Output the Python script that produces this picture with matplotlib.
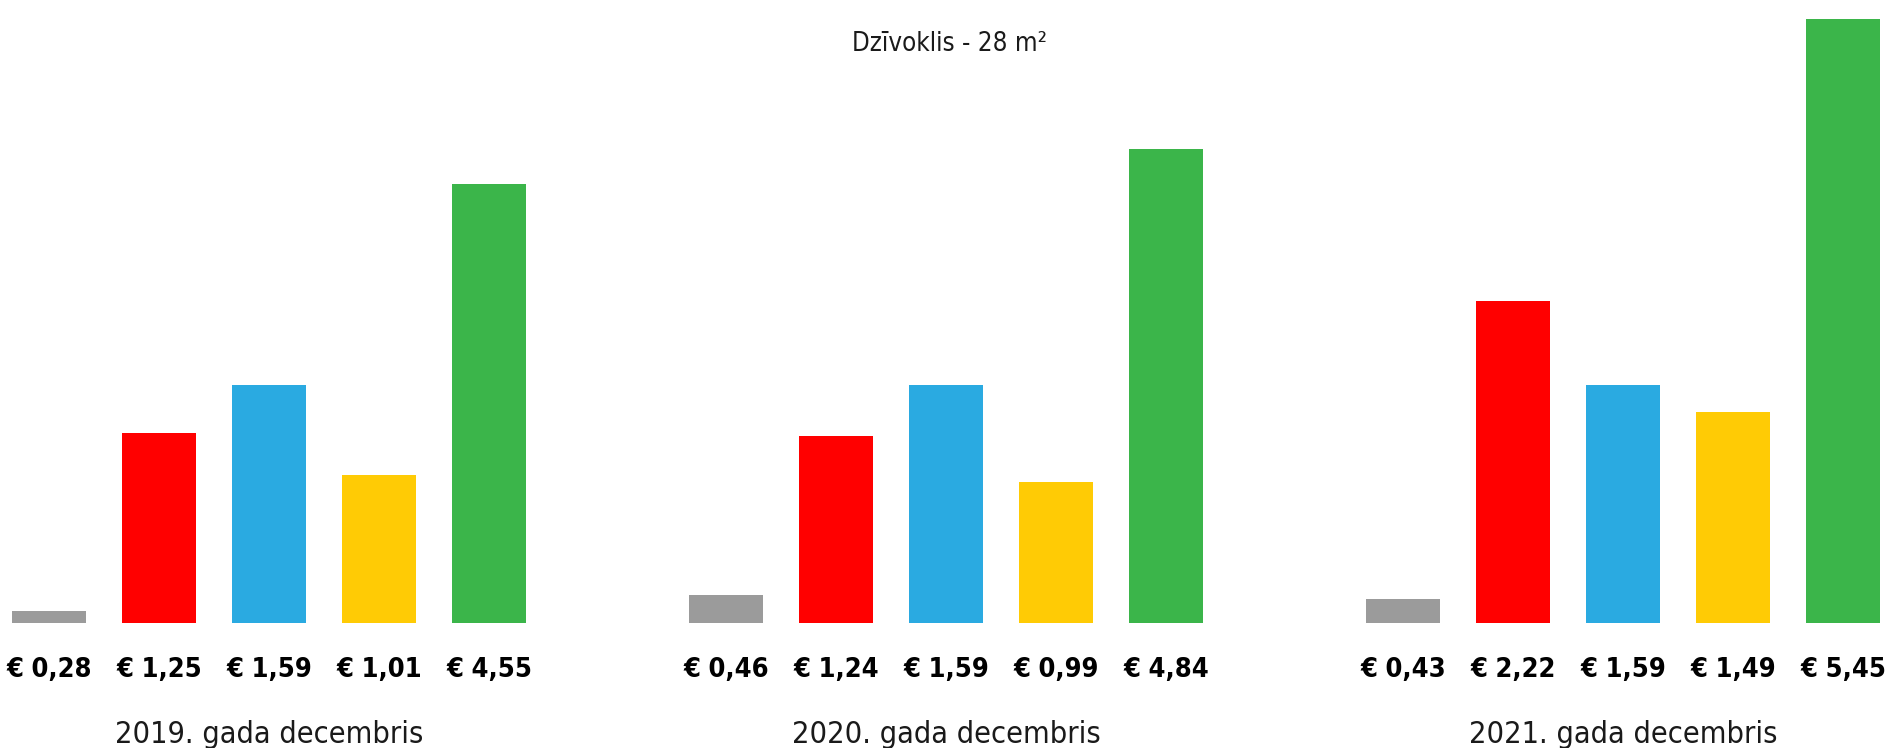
import matplotlib
matplotlib.use("Agg")
import matplotlib.pyplot as plt
import numpy as np

# data
groups = ["2019. gada decembris", "2020. gada decembris", "2021. gada decembris"]
colors = ["#9B9B9B", "#FF0000", "#2AAAE1", "#FFCB05", "#3BB54A"]
# printed prices (EUR) under the bars
values_2019 = [0.28, 1.25, 1.59, 1.01, 4.55]
values_2020 = [0.46, 1.24, 1.59, 0.99, 4.84]
values_2021 = [0.43, 2.22, 1.59, 1.49, 5.45]
# drawn bar heights as they appear in the picture (not proportional to prices)
heights_2019 = [0.08, 1.27, 1.59, 0.99, 2.93]
heights_2020 = [0.19, 1.25, 1.59, 0.94, 3.16]
heights_2021 = [0.16, 2.15, 1.59, 1.41, 4.03]
title = "Dzīvoklis - 28 m²"

values = [values_2019, values_2020, values_2021]
heights = [heights_2019, heights_2020, heights_2021]

plt.rcParams["font.family"] = ["DejaVu Sans"]
plt.rcParams["font.stretch"] = "condensed"

W, H = 1885, 748
fig = plt.figure(figsize=(W / 100, H / 100), dpi=100)
base_px = 623
ax = fig.add_axes([0, (H - base_px) / H, 1, base_px / H])
ax.set_axis_off()

step = 110.0
group_gap = 677.0 / step
x0 = 49.0 / step
ax.set_xlim(-x0, W / step - x0)
ax.set_ylim(0, base_px / 150.0)

for g in range(len(groups)):
    xs = g * group_gap + np.arange(5)
    ax.bar(xs, heights[g], width=74.5 / step, color=colors, linewidth=0)
    for x, v in zip(xs, values[g]):
        xf = (x + x0) * step / W
        s = "€ " + ("%.2f" % v).replace(".", ",")
        fig.text(xf, (H - 677) / H, s, ha="center", va="baseline",
                 fontsize=19.5, fontweight="bold", color="black",
                 fontstretch="condensed")
    xf = (xs[2] + x0) * step / W
    fig.text(xf, (H - 743) / H, groups[g], ha="center", va="baseline",
             fontsize=22, color="#1a1a1a", fontstretch="condensed")

fig.text(949 / W, (H - 51) / H, title, ha="center", va="baseline",
         fontsize=18.5, color="#1a1a1a", fontstretch="condensed")

fig.savefig("out.png", dpi=100, facecolor="white")
